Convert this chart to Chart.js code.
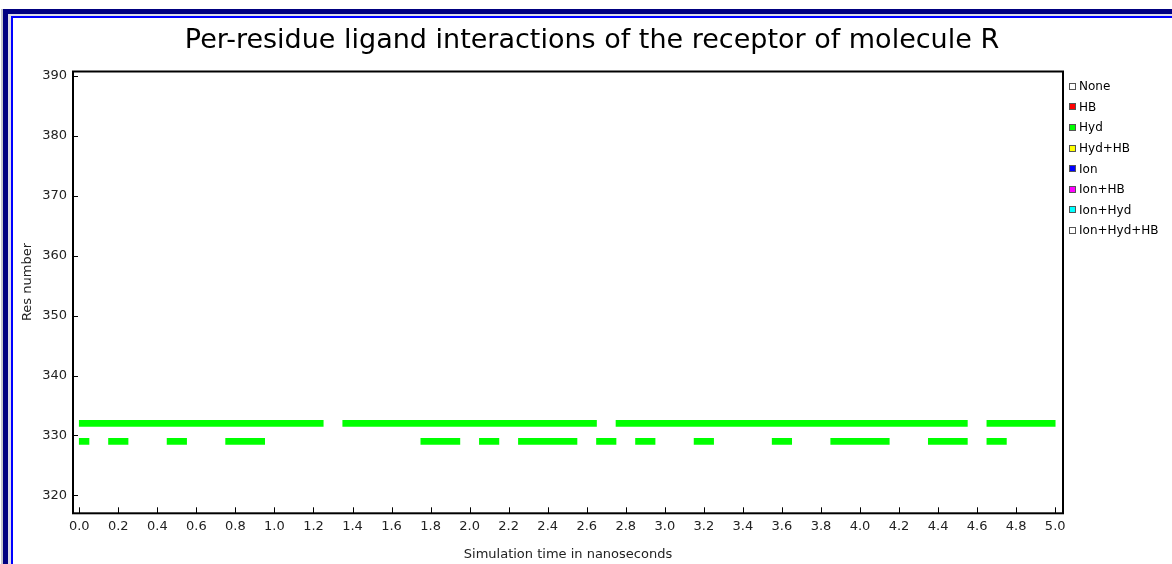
<!DOCTYPE html>
<html>
<head>
<meta charset="utf-8">
<title>Per-residue ligand interactions</title>
<script src="https://cdn.jsdelivr.net/npm/chart.js@4.4.0/dist/chart.umd.min.js"></script>
<style>
    html, body { margin: 0; padding: 0; background: #fff; overflow: hidden; }
    .edge { position: absolute; box-sizing: border-box; }
    #chartWrap { position: absolute; left: 0; top: 0; width: 1172px; height: 564px; z-index: 2; }
    #legend ul { position: absolute; left: 1069px; top: 76px; margin: 0; padding: 0; list-style: none;
                 font-family: 'DejaVu Sans', sans-serif; font-size: 12px; color: #000; z-index: 3; }
    #legend li { height: 20.6px; display: flex; align-items: center; white-space: nowrap; }
    .legend-dots { display: inline-block; width: 5px; height: 5px; border: 1px solid #555; margin-right: 3px; }
</style>
</head>
<body>
<!-- window frame -->
<div class="edge" style="left:1px;top:9px;width:2px;height:600px;background:#c4c4cc;"></div>
<div class="edge" style="left:3px;top:9px;width:1300px;height:700px;border-left:5px solid #000080;border-top:5px solid #000080;"></div>
<div class="edge" style="left:8px;top:14px;width:1300px;height:700px;border-left:3px solid #dcdce8;border-top:2px solid #dcdce8;"></div>
<div class="edge" style="left:11px;top:16px;width:1300px;height:700px;border-left:2px solid #0000ff;border-top:2px solid #0000ff;background:#fff;"></div>

<div id="chartWrap"><canvas id="ResidueChart"></canvas></div>
<div id="legend"></div>

<script>
// interaction classes shown in the legend
var interactionTypes = ["None", "HB", "Hyd", "Hyd+HB", "Ion", "Ion+HB", "Ion+Hyd", "Ion+Hyd+HB"];
var interactionColors = ["#ffffff", "#ff0000", "#00ff00", "#ffff00", "#0000ff", "#ff00ff", "#00ffff", "#ffffff"];

// hydrophobic contact windows (ns) per residue
var hydResidues = [332, 329];
var hydRes332 = [[0.0, 1.25], [1.35, 2.65], [2.75, 4.55], [4.65, 5.0]];
var hydRes329 = [[0.0, 0.05], [0.15, 0.25], [0.45, 0.55], [0.75, 0.95], [1.75, 1.95], [2.05, 2.15],
                 [2.25, 2.55], [2.65, 2.75], [2.85, 2.95], [3.15, 3.25], [3.55, 3.65], [3.85, 4.15],
                 [4.35, 4.55], [4.65, 4.75]];

var timeMin = -0.032, timeMax = 5.04, timeStep = 0.2;
var resMin = 317, resMax = 390.75, resStep = 10;

var fontFamily = "'DejaVu Sans', sans-serif";

function toBars(res, windows) {
    return windows.map(function (w) {
        return { x: [w[0], w[1]], y: res };
    });
}

var hydData = toBars(hydResidues[0], hydRes332).concat(toBars(hydResidues[1], hydRes329));

var datasets = interactionTypes.map(function (name, i) {
    return {
        label: name,
        data: name === "Hyd" ? hydData : [],
        backgroundColor: interactionColors[i],
        borderWidth: 0,
        barThickness: 6,
        grouped: false,
    };
});

// box around the plot with inward tick marks
var plotFrame = {
    id: "plotFrame",
    afterDatasetsDraw: function (chart) {
        var ctx = chart.ctx;
        var a = chart.chartArea;
        var xs = chart.scales.x;
        var ys = chart.scales.y;
        ctx.save();
        ctx.strokeStyle = "#000";
        ctx.lineWidth = 1;
        ctx.beginPath();
        xs.ticks.forEach(function (t) {
            var px = Math.round(xs.getPixelForValue(t.value)) + 0.5;
            ctx.moveTo(px, a.bottom);
            ctx.lineTo(px, a.bottom - 6);
        });
        ys.ticks.forEach(function (t) {
            var py = Math.round(ys.getPixelForValue(t.value)) + 0.5;
            ctx.moveTo(a.left, py);
            ctx.lineTo(a.left + 5, py);
        });
        ctx.stroke();
        ctx.lineWidth = 2;
        ctx.strokeRect(a.left, a.top, a.right - a.left, a.bottom - a.top);
        ctx.restore();
    },
};

var residueCanvas = document.getElementById("ResidueChart").getContext("2d");
var residueChart = new Chart(residueCanvas, {
    type: "bar",
    data: { datasets: datasets },
    options: {
        indexAxis: "y",
        responsive: true,
        maintainAspectRatio: false,
        animation: false,
        layout: {
            padding: { top: 0, left: 12, right: 0, bottom: 0 },
        },
        scales: {
            x: {
                type: "linear",
                min: timeMin,
                max: timeMax,
                grid: { display: false, drawTicks: false },
                border: { display: false },
                ticks: {
                    stepSize: timeStep,
                    includeBounds: false,
                    autoSkip: false,
                    maxRotation: 0,
                    padding: 6,
                    color: "#222",
                    font: { family: fontFamily, size: 13 },
                    callback: function (v) { return v.toFixed(1); },
                },
                title: {
                    display: true,
                    text: "Simulation time in nanoseconds",
                    color: "#222",
                    font: { family: fontFamily, size: 13 },
                    padding: { top: 0, bottom: 2 },
                },
                afterFit: function (scale) {
                    scale.height = 50.7;
                    // room on the right for the legend list
                    scale.paddingRight = 109;
                },
            },
            y: {
                type: "linear",
                offset: false,
                min: resMin,
                max: resMax,
                grid: { display: false, drawTicks: false, offset: false },
                border: { display: false },
                ticks: {
                    stepSize: resStep,
                    includeBounds: false,
                    padding: 6,
                    color: "#222",
                    font: { family: fontFamily, size: 13 },
                },
                title: {
                    display: true,
                    // leading spaces lift the label a little above the axis middle
                    text: "     Res number",
                    color: "#222",
                    font: { family: fontFamily, size: 13 },
                    padding: { top: 7.7, bottom: 0 },
                },
                afterFit: function (scale) { scale.width = 61; },
            },
        },
        plugins: {
            legend: { display: false },
            tooltip: { enabled: false },
            title: {
                display: true,
                text: "Per-residue ligand interactions of the receptor of molecule R",
                color: "#000",
                font: { family: fontFamily, size: 27, weight: "normal" },
                padding: { top: 24.8, bottom: 14.3 },
            },
        },
    },
    plugins: [plotFrame],
});

// html legend, one row per interaction class
var text = [];
text.push('<ul class="legend' + residueChart.id + '">');
for (var i = 0; i < residueChart.data.datasets.length; i++) {
    var ds = residueChart.data.datasets[i];
    text.push('<li><span class="legend-dots" style="background-color:' + ds.backgroundColor + '"></span>' + ds.label + "</li>");
}
text.push("</ul>");
document.getElementById("legend").innerHTML = text.join("");
</script>
</body>
</html>
